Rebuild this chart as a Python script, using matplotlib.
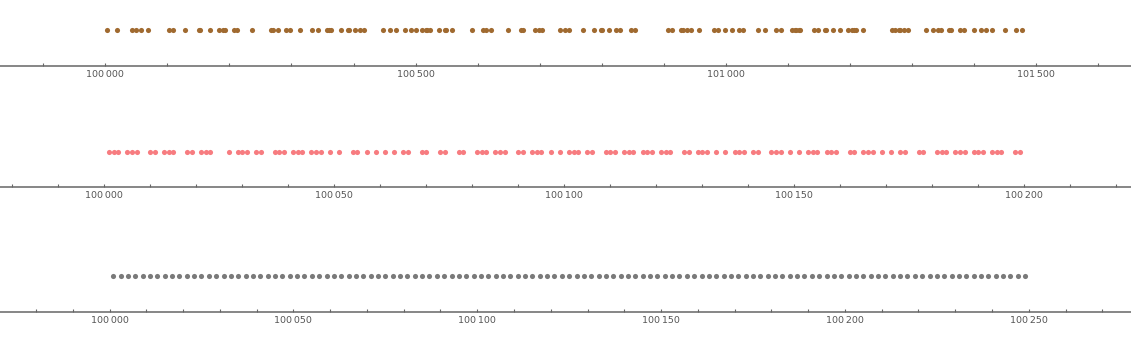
import numpy as np
import matplotlib
matplotlib.use("Agg")
import matplotlib.pyplot as plt
from matplotlib.ticker import MultipleLocator, FuncFormatter

# row 1: first 125 primes above 100000
primes = [
    100003, 100019, 100043, 100049, 100057, 100069, 100103, 100109, 100129, 100151,
    100153, 100169, 100183, 100189, 100193, 100207, 100213, 100237, 100267, 100271,
    100279, 100291, 100297, 100313, 100333, 100343, 100357, 100361, 100363, 100379,
    100391, 100393, 100403, 100411, 100417, 100447, 100459, 100469, 100483, 100493,
    100501, 100511, 100517, 100519, 100523, 100537, 100547, 100549, 100559, 100591,
    100609, 100613, 100621, 100649, 100669, 100673, 100693, 100699, 100703, 100733,
    100741, 100747, 100769, 100787, 100799, 100801, 100811, 100823, 100829, 100847,
    100853, 100907, 100913, 100927, 100931, 100937, 100943, 100957, 100981, 100987,
    100999, 101009, 101021, 101027, 101051, 101063, 101081, 101089, 101107, 101111,
    101113, 101117, 101119, 101141, 101149, 101159, 101161, 101173, 101183, 101197,
    101203, 101207, 101209, 101221, 101267, 101273, 101279, 101281, 101287, 101293,
    101323, 101333, 101341, 101347, 101359, 101363, 101377, 101383, 101399, 101411,
    101419, 101429, 101449, 101467, 101477,
]

# row 2: first 125 squarefree numbers above 100000
squarefree = [
    100001, 100002, 100003, 100005, 100006, 100007, 100010, 100011, 100013, 100014,
    100015, 100018, 100019, 100021, 100022, 100023, 100027, 100029, 100030, 100031,
    100033, 100034, 100037, 100038, 100039, 100041, 100042, 100043, 100045, 100046,
    100047, 100049, 100051, 100054, 100055, 100057, 100059, 100061, 100063, 100065,
    100066, 100069, 100070, 100073, 100074, 100077, 100078, 100081, 100082, 100083,
    100085, 100086, 100087, 100090, 100091, 100093, 100094, 100095, 100097, 100099,
    100101, 100102, 100103, 100105, 100106, 100109, 100110, 100111, 100113, 100114,
    100115, 100117, 100118, 100119, 100121, 100122, 100123, 100126, 100127, 100129,
    100130, 100131, 100133, 100135, 100137, 100138, 100139, 100141, 100142, 100145,
    100146, 100147, 100149, 100151, 100153, 100154, 100155, 100157, 100158, 100159,
    100162, 100163, 100165, 100166, 100167, 100169, 100171, 100173, 100174, 100177,
    100178, 100181, 100182, 100183, 100185, 100186, 100187, 100189, 100190, 100191,
    100193, 100194, 100195, 100198, 100199,
]

# row 3: first 125 odd numbers above 100000
odds = [
    100001, 100003, 100005, 100007, 100009, 100011, 100013, 100015, 100017, 100019,
    100021, 100023, 100025, 100027, 100029, 100031, 100033, 100035, 100037, 100039,
    100041, 100043, 100045, 100047, 100049, 100051, 100053, 100055, 100057, 100059,
    100061, 100063, 100065, 100067, 100069, 100071, 100073, 100075, 100077, 100079,
    100081, 100083, 100085, 100087, 100089, 100091, 100093, 100095, 100097, 100099,
    100101, 100103, 100105, 100107, 100109, 100111, 100113, 100115, 100117, 100119,
    100121, 100123, 100125, 100127, 100129, 100131, 100133, 100135, 100137, 100139,
    100141, 100143, 100145, 100147, 100149, 100151, 100153, 100155, 100157, 100159,
    100161, 100163, 100165, 100167, 100169, 100171, 100173, 100175, 100177, 100179,
    100181, 100183, 100185, 100187, 100189, 100191, 100193, 100195, 100197, 100199,
    100201, 100203, 100205, 100207, 100209, 100211, 100213, 100215, 100217, 100219,
    100221, 100223, 100225, 100227, 100229, 100231, 100233, 100235, 100237, 100239,
    100241, 100243, 100245, 100247, 100249,
]

W, H = 1131, 346

# (values, colour, xlim, major step, minor step, axis line y px, dot y px)
rows = [
    (primes, "#a06a30", (99830.4, 101652.5), 500, 100, 66.0, 30.3),
    (squarefree, "#f77c80", (99977.3, 100223.2), 50, 10, 187.3, 152.3),
    (odds, "#7a7a7a", (99970.2, 100277.8), 50, 10, 312.3, 276.0),
]

axis_col = "#666666"
fmt = FuncFormatter(lambda v, p: "{:,}".format(int(round(v))).replace(",", "\u2009"))

fig = plt.figure(figsize=(W / 100, H / 100), dpi=100)
ax_h = 60.0
for vals, col, xlim, major, minor, line_y, dot_y in rows:
    ax = fig.add_axes([0, (H - line_y) / H, 1, ax_h / H])
    ax.set_xlim(*xlim)
    ax.set_ylim(0, 1)
    yy = np.full(len(vals), (line_y - dot_y) / ax_h)
    ax.plot(vals, yy, "o", color=col, ms=3.7, mew=0, clip_on=False)

    for s in ["top", "left", "right"]:
        ax.spines[s].set_visible(False)
    ax.spines["bottom"].set_color(axis_col)
    ax.spines["bottom"].set_linewidth(1.1)
    ax.set_yticks([])
    ax.patch.set_alpha(0)

    ax.xaxis.set_major_locator(MultipleLocator(major))
    ax.xaxis.set_minor_locator(MultipleLocator(minor))
    ax.xaxis.set_major_formatter(fmt)
    ax.tick_params(axis="x", which="both", direction="in", length=2.5, width=0.8,
                   color=axis_col)
    ax.tick_params(axis="x", which="major", labelsize=6.8, labelcolor="#555555", pad=3)

fig.savefig("out.png", dpi=100)
